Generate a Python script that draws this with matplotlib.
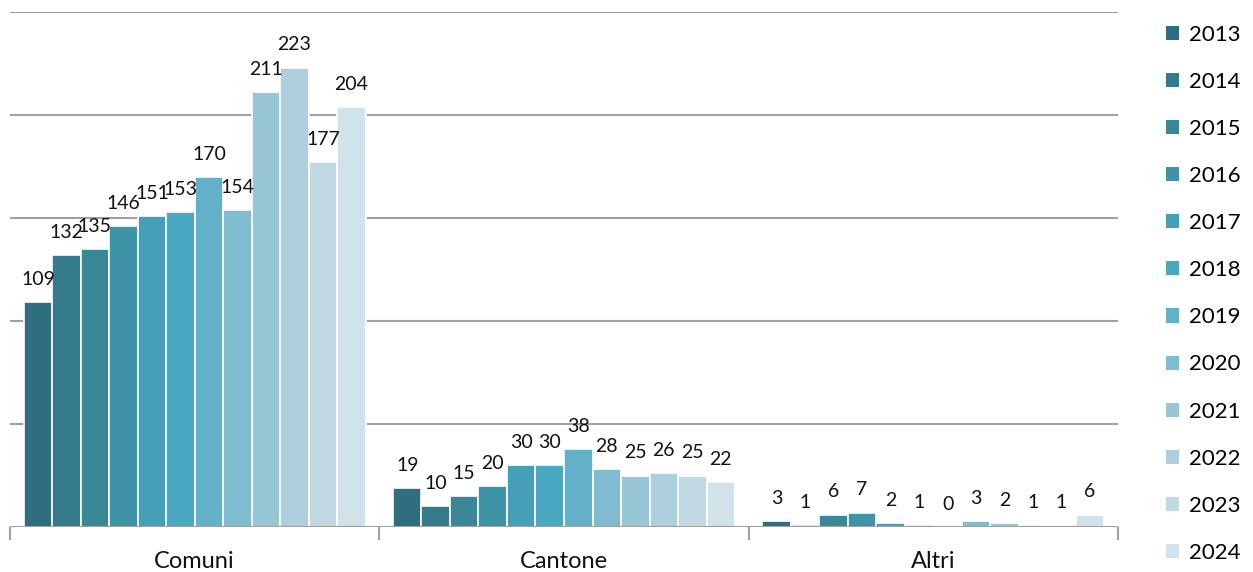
import numpy as np
import matplotlib
matplotlib.use("Agg")
import matplotlib.pyplot as plt
from matplotlib.patches import Patch

plt.rcParams['font.family'] = ['Lato', 'DejaVu Sans']

categorie = ['Comuni', 'Cantone', 'Altri']
anni = ['2013', '2014', '2015', '2016', '2017', '2018',
        '2019', '2020', '2021', '2022', '2023', '2024']

# valori per anno: [Comuni, Cantone, Altri]
valori = {
    '2013': [109, 19, 3],
    '2014': [132, 10, 1],
    '2015': [135, 15, 6],
    '2016': [146, 20, 7],
    '2017': [151, 30, 2],
    '2018': [153, 30, 1],
    '2019': [170, 38, 0],
    '2020': [154, 28, 3],
    '2021': [211, 25, 2],
    '2022': [223, 26, 1],
    '2023': [177, 25, 1],
    '2024': [204, 22, 6],
}

colori = ['#2E6E7E', '#347B8C', '#3A8798', '#3F93A7', '#45A0B7', '#4BA8C3',
          '#63B1C9', '#80BCCF', '#97C6D6', '#AED0DE', '#C0D9E3', '#D0E3EA']

fig = plt.figure(figsize=(12.53, 5.72), dpi=100)
ax = fig.add_axes([10 / 1253, 45 / 572, 1108 / 1253, 515 / 572])

n = len(anni)
larghezza_gruppo = 0.926
w = larghezza_gruppo / n
x = np.arange(len(categorie))

for i, anno in enumerate(anni):
    pos = x - larghezza_gruppo / 2 + w * (i + 0.5)
    vals = valori[anno]
    ax.bar(pos, vals, width=w, color=colori[i], edgecolor='white',
           linewidth=1.2, zorder=3)
    for px, v in zip(pos, vals):
        ax.text(px, v + 11, str(v), ha='center', va='center',
                fontsize=14, color='#111111', zorder=4)

ax.set_xlim(-0.5, len(categorie) - 0.5)
ax.set_ylim(0, 250)

# griglia orizzontale
for yv in range(50, 251, 50):
    ax.axhline(yv, color='#A0A0A0', linewidth=1.5, zorder=1)
ax.axhline(0, color='#A0A0A0', linewidth=1.5, zorder=5)

for s in ax.spines.values():
    s.set_visible(False)
ax.set_yticks([])

# separatori tra categorie
ax.set_xticks(np.arange(-0.5, len(categorie)), minor=False)
ax.set_xticklabels([])
ax.tick_params(axis='x', length=9, width=1.5, color='#A0A0A0', direction='out')
ax.set_xticks(x, minor=True)
ax.set_xticklabels(categorie, minor=True, fontsize=17, color='#111111')
ax.tick_params(axis='x', which='minor', length=0, pad=17)

handles = [Patch(facecolor=c, edgecolor='none') for c in colori]
fig.legend(handles, anni, loc='upper left', bbox_to_anchor=(1150 / 1253, 0.984),
           frameon=False, fontsize=16, handlelength=0.6, handleheight=0.6,
           handletextpad=0.45, labelspacing=1.22, borderpad=0.2)

fig.savefig('out.png', dpi=100)
